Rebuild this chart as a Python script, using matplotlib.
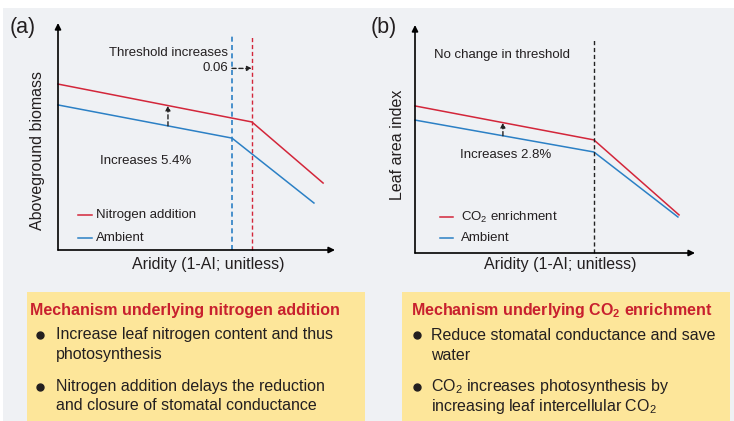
import numpy as np
import matplotlib
matplotlib.use("Agg")
import matplotlib.pyplot as plt
from matplotlib.patches import Rectangle
from matplotlib.lines import Line2D

plt.rcParams['font.family'] = ['Liberation Sans', 'DejaVu Sans']
plt.rcParams['mathtext.fontset'] = 'custom'
plt.rcParams['mathtext.rm'] = 'Liberation Sans'
plt.rcParams['mathtext.bf'] = 'Liberation Sans:bold'
plt.rcParams['mathtext.it'] = 'Liberation Sans:italic'

# ---------------- data (conceptual units, axes 0..1) ----------------
# Panel (a): aboveground biomass vs aridity
a_x_nitrogen = [0.0, 0.700, 0.957]
a_y_nitrogen = [0.731, 0.564, 0.295]
a_x_ambient = [0.0, 0.628, 0.924]
a_y_ambient = [0.639, 0.493, 0.207]
a_threshold_ambient = 0.628
a_threshold_nitrogen = 0.700
a_arrow_x = 0.397

# Panel (b): leaf area index vs aridity
b_x_co2 = [0.0, 0.639, 0.943]
b_y_co2 = [0.645, 0.496, 0.167]
b_x_ambient = [0.0, 0.639, 0.939]
b_y_ambient = [0.583, 0.443, 0.158]
b_threshold = 0.639
b_arrow_x = 0.314

a_labels = ["Nitrogen addition", "Ambient"]
b_labels = [r"CO$_\mathrm{2}$ enrichment", "Ambient"]
xlabel = "Aridity (1-AI; unitless)"
a_ylabel = "Aboveground biomass"
b_ylabel = "Leaf area index"

box_a_title = "Mechanism underlying nitrogen addition"
box_a_items = [["Increase leaf nitrogen content and thus", "photosynthesis"],
               ["Nitrogen addition delays the reduction", "and closure of stomatal conductance"]]
box_b_title = r"Mechanism underlying CO$_\mathbf{2}$ enrichment"
box_b_items = [["Reduce stomatal conductance and save", "water"],
               [r"CO$_\mathrm{2}$ increases photosynthesis by", r"increasing leaf intercellular CO$_\mathrm{2}$"]]

RED = '#d3263a'
BLUE = '#2b80c5'
GRAY_BG = '#eff1f4'
YELLOW = '#fde69a'
TXT = '#231f20'
TITLE_RED = '#c8202e'

W, H = 734, 421
fig = plt.figure(figsize=(W / 100, H / 100), dpi=100)
fig.patch.set_facecolor('white')

def fx(px):
    return px / W

def fy(py):
    return 1 - py / H

# background panel
fig.add_artist(Rectangle((fx(3), 0), 1 - fx(3), fy(8), transform=fig.transFigure,
                         facecolor=GRAY_BG, edgecolor='none', zorder=0))

def make_axes(x0, x1, ytop, ybot):
    ax = fig.add_axes([fx(x0), fy(ybot), (x1 - x0) / W, (ybot - ytop) / H])
    ax.set_xlim(0, 1)
    ax.set_ylim(0, 1)
    ax.axis('off')
    ax.patch.set_alpha(0)
    akw = dict(arrowstyle='-|>', lw=1.2, color='black', mutation_scale=9,
               shrinkA=0, shrinkB=0)
    ax.annotate('', xy=(1, 0), xytext=(0, 0), xycoords='axes fraction',
                arrowprops=akw, annotation_clip=False)
    ax.annotate('', xy=(0, 1), xytext=(0, 0), xycoords='axes fraction',
                arrowprops=akw, annotation_clip=False)
    return ax

LW = 1.1

# ---------------- Panel (a) ----------------
axa = make_axes(58, 335, 23, 250)
axa.plot(a_x_nitrogen, a_y_nitrogen, color=RED, lw=LW, clip_on=False)
axa.plot(a_x_ambient, a_y_ambient, color=BLUE, lw=LW, clip_on=False)
axa.plot([a_threshold_ambient] * 2, [0, 0.943], color=BLUE, lw=1.2, ls=(0, (3, 2)), clip_on=False)
axa.plot([a_threshold_nitrogen] * 2, [0, 0.943], color=RED, lw=1.0, ls=(0, (3, 2)), clip_on=False)
y_lo = np.interp(a_arrow_x, a_x_ambient, a_y_ambient)
y_hi = np.interp(a_arrow_x, a_x_nitrogen, a_y_nitrogen)
axa.annotate('', xy=(a_arrow_x, y_hi), xytext=(a_arrow_x, y_lo),
             arrowprops=dict(arrowstyle='-|>', lw=1.0, color='#222222', ls=(0, (3, 2)),
                             mutation_scale=7, shrinkA=0, shrinkB=0))
axa.annotate('', xy=(a_threshold_nitrogen, 0.80), xytext=(a_threshold_ambient, 0.80),
             arrowprops=dict(arrowstyle='-|>', lw=1.0, color='#222222', ls=(0, (3, 2)),
                             mutation_scale=7, shrinkA=0, shrinkB=0))
# legend
for yy, col, lab in [(215, RED, a_labels[0]), (238, BLUE, a_labels[1])]:
    fig.add_artist(Line2D([fx(78), fx(92)], [fy(yy), fy(yy)], color=col, lw=LW,
                          transform=fig.transFigure))
    fig.text(fx(96), fy(yy), lab, fontsize=9.5, color=TXT, va='center', ha='left')

fig.text(fx(10), fy(27), "(a)", fontsize=15.5, color=TXT, va='center', ha='left')
fig.text(fx(228), fy(53), "Threshold increases", fontsize=9.5, color=TXT, va='center', ha='right')
fig.text(fx(228), fy(68), "0.06", fontsize=9.5, color=TXT, va='center', ha='right')
fig.text(fx(100), fy(161), "Increases 5.4%", fontsize=9.5, color=TXT, va='center', ha='left')
fig.text(fx(38), fy(150), a_ylabel, fontsize=11.5, color=TXT, va='center', ha='center', rotation=90)
fig.text(fx(208), fy(264), xlabel, fontsize=11.5, color=TXT, va='center', ha='center')

# ---------------- Panel (b) ----------------
axb = make_axes(415, 695, 25, 253)
axb.plot(b_x_co2, b_y_co2, color=RED, lw=LW, clip_on=False)
axb.plot(b_x_ambient, b_y_ambient, color=BLUE, lw=LW, clip_on=False)
axb.plot([b_threshold] * 2, [0, 0.934], color='#222222', lw=1.0, ls=(0, (3, 2)), clip_on=False)
y_lo = np.interp(b_arrow_x, b_x_ambient, b_y_ambient)
y_hi = np.interp(b_arrow_x, b_x_co2, b_y_co2)
axb.annotate('', xy=(b_arrow_x, y_hi), xytext=(b_arrow_x, y_lo),
             arrowprops=dict(arrowstyle='-|>', lw=1.0, color='#222222', ls=(0, (3, 2)),
                             mutation_scale=7, shrinkA=0, shrinkB=0))
for yy, col, lab in [(217, RED, b_labels[0]), (238, BLUE, b_labels[1])]:
    fig.add_artist(Line2D([fx(440), fx(453)], [fy(yy), fy(yy)], color=col, lw=LW,
                          transform=fig.transFigure))
    fig.text(fx(461), fy(yy), lab, fontsize=9.5, color=TXT, va='center', ha='left')

fig.text(fx(371), fy(27), "(b)", fontsize=15.5, color=TXT, va='center', ha='left')
fig.text(fx(434), fy(55), "No change in threshold", fontsize=9.5, color=TXT, va='center', ha='left')
fig.text(fx(460), fy(155), "Increases 2.8%", fontsize=9.5, color=TXT, va='center', ha='left')
fig.text(fx(397), fy(145), b_ylabel, fontsize=11.5, color=TXT, va='center', ha='center', rotation=90)
fig.text(fx(560), fy(265), xlabel, fontsize=11.5, color=TXT, va='center', ha='center')

# ---------------- Boxes ----------------
def draw_box(x0, x1, title, items, title_x, bullet_x, text_x):
    fig.add_artist(Rectangle((fx(x0), 0), (x1 - x0) / W, fy(292), transform=fig.transFigure,
                             facecolor=YELLOW, edgecolor='none', zorder=0.5))
    fig.text(fx(title_x), fy(310), title, fontsize=11.5, fontweight='bold',
             color=TITLE_RED, va='center', ha='left')
    line_ys = [(335, 355), (387, 406)]
    for (l1, l2), (y1, y2) in zip(items, line_ys):
        fig.add_artist(Line2D([fx(bullet_x)], [fy(y1)], marker='o', ms=5, color=TXT,
                              transform=fig.transFigure))
        fig.text(fx(text_x), fy(y1), l1, fontsize=11.5, color=TXT, va='center', ha='left')
        fig.text(fx(text_x), fy(y2), l2, fontsize=11.5, color=TXT, va='center', ha='left')

draw_box(27, 365, box_a_title, box_a_items, 30, 40, 56)
draw_box(402, 730, box_b_title, box_b_items, 411, 417, 431)

fig.savefig("out.png", dpi=100, facecolor=fig.get_facecolor())
